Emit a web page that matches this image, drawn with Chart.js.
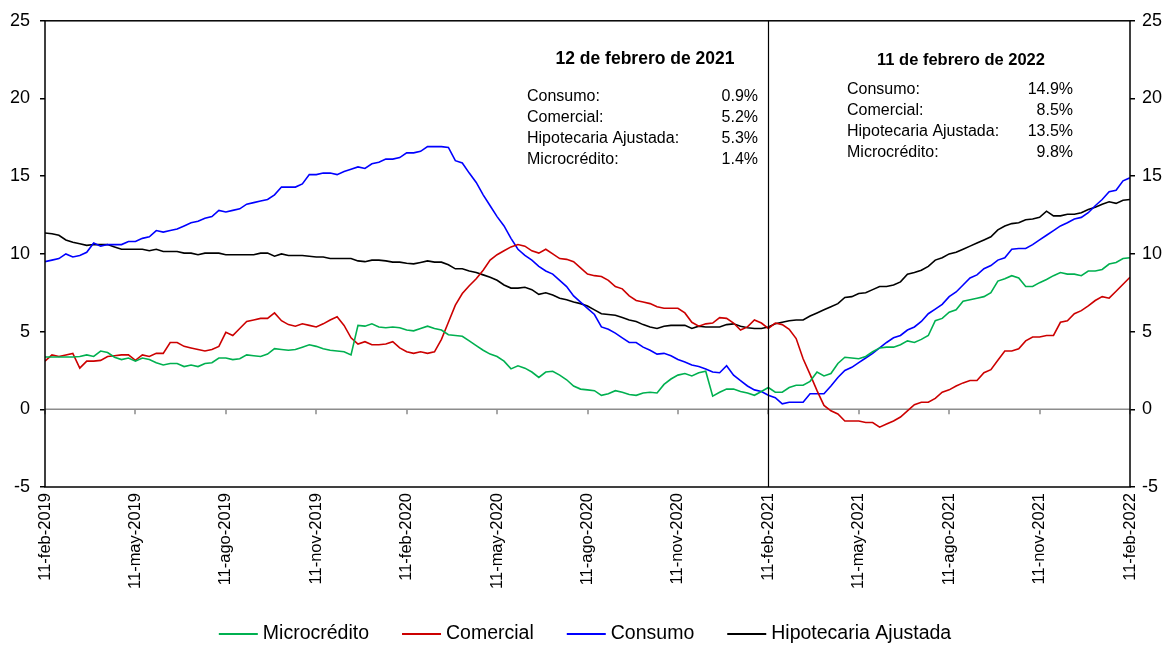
<!DOCTYPE html>
<html>
<head>
<meta charset="utf-8">
<script src="https://cdn.jsdelivr.net/npm/chart.js@4.4.1/dist/chart.umd.min.js"></script>
<style>
html,body{margin:0;padding:0;background:#fff;}
#wrap{width:1170px;height:647px;position:relative;}
</style>
</head>
<body>
<div id="wrap"><canvas id="c" width="1170" height="647"></canvas></div>
<script>
// ---- Data ----
const tickWeeks = [0,13,26,39,52,65,78,91,104,117,130,143,156];
const tickLabels = ['11-feb-2019','11-may-2019','11-ago-2019','11-nov-2019','11-feb-2020','11-may-2020','11-ago-2020','11-nov-2020','11-feb-2021','11-may-2021','11-ago-2021','11-nov-2021','11-feb-2022'];

const microcredito = [
3.37,3.37,3.37,3.37,3.37,3.4,3.5,3.4,3.75,3.65,
3.35,3.2,3.3,3.1,3.3,3.2,3.0,2.85,2.95,2.95,
2.75,2.85,2.75,2.95,3.0,3.3,3.3,3.2,3.25,3.5,
3.45,3.4,3.55,3.9,3.85,3.8,3.85,4.0,4.15,4.05,
3.9,3.8,3.75,3.7,3.5,5.4,5.35,5.5,5.3,5.25,
5.3,5.25,5.1,5.05,5.2,5.35,5.2,5.1,4.8,4.75,
4.7,4.4,4.1,3.8,3.55,3.4,3.1,2.6,2.8,2.65,
2.4,2.05,2.4,2.45,2.2,1.9,1.5,1.3,1.25,1.2,
0.9,1.0,1.2,1.1,0.95,0.9,1.05,1.1,1.05,1.6,
1.95,2.2,2.3,2.15,2.35,2.45,0.85,1.1,1.3,1.3,
1.15,1.05,0.9,1.15,1.4,1.1,1.1,1.4,1.55,1.55,
1.8,2.4,2.15,2.3,2.95,3.35,3.3,3.25,3.4,3.7,
3.95,4.0,4.0,4.15,4.4,4.3,4.5,4.75,5.7,5.85,
6.25,6.4,6.95,7.05,7.15,7.25,7.5,8.25,8.4,8.6,
8.45,7.9,7.9,8.15,8.35,8.6,8.8,8.7,8.7,8.6,
8.9,8.9,9.0,9.35,9.45,9.7,9.75];

const comercial = [
3.1,3.5,3.4,3.5,3.6,2.65,3.1,3.1,3.15,3.4,
3.45,3.5,3.5,3.15,3.5,3.4,3.6,3.6,4.3,4.3,
4.05,3.95,3.85,3.75,3.85,4.05,4.95,4.75,5.2,5.65,
5.75,5.85,5.85,6.2,5.7,5.45,5.35,5.5,5.4,5.3,
5.5,5.75,5.95,5.4,4.6,4.2,4.35,4.15,4.15,4.2,
4.35,3.95,3.7,3.6,3.7,3.6,3.7,4.5,5.6,6.7,
7.45,7.95,8.4,8.95,9.6,9.95,10.2,10.45,10.6,10.5,
10.2,10.05,10.3,10.0,9.7,9.65,9.5,9.1,8.7,8.6,
8.55,8.3,7.9,7.75,7.3,7.0,6.9,6.8,6.6,6.5,
6.5,6.5,6.2,5.6,5.35,5.5,5.55,5.9,5.85,5.55,
5.1,5.3,5.75,5.55,5.2,5.55,5.45,5.15,4.55,3.25,
2.25,1.2,0.25,-0.1,-0.3,-0.75,-0.75,-0.75,-0.85,-0.85,
-1.15,-0.95,-0.75,-0.5,-0.1,0.3,0.45,0.45,0.7,1.1,
1.25,1.5,1.7,1.85,1.85,2.35,2.55,3.15,3.75,3.75,
3.9,4.4,4.65,4.65,4.75,4.75,5.6,5.7,6.15,6.35,
6.65,7.0,7.25,7.15,7.6,8.05,8.5];

const consumo = [
9.5,9.6,9.7,10.0,9.8,9.9,10.1,10.7,10.5,10.6,
10.6,10.6,10.8,10.8,11.0,11.1,11.5,11.4,11.5,11.6,
11.8,12.0,12.1,12.3,12.4,12.8,12.7,12.8,12.9,13.2,
13.3,13.4,13.5,13.8,14.3,14.3,14.3,14.5,15.1,15.1,
15.2,15.2,15.1,15.3,15.45,15.6,15.5,15.8,15.9,16.1,
16.1,16.2,16.5,16.5,16.6,16.9,16.9,16.9,16.85,16.0,
15.85,15.2,14.6,13.8,13.1,12.4,11.8,11.0,10.3,9.9,
9.6,9.2,8.9,8.7,8.3,7.9,7.3,6.9,6.5,6.1,
5.3,5.15,4.9,4.6,4.3,4.3,4.0,3.8,3.55,3.6,
3.45,3.2,3.05,2.85,2.75,2.6,2.4,2.35,2.8,2.2,
1.85,1.5,1.25,1.15,0.9,0.75,0.35,0.45,0.45,0.45,
1.0,1.0,1.0,1.5,2.05,2.5,2.7,3.0,3.3,3.6,
3.95,4.3,4.6,4.75,5.1,5.3,5.65,6.15,6.45,6.75,
7.25,7.55,8.0,8.45,8.65,9.05,9.25,9.6,9.75,10.3,
10.35,10.35,10.6,10.9,11.2,11.5,11.8,12.0,12.25,12.35,
12.65,13.1,13.5,14.0,14.1,14.7,14.9];

const hipotecaria = [
11.35,11.3,11.2,10.9,10.75,10.65,10.55,10.6,10.6,10.6,
10.45,10.3,10.3,10.3,10.3,10.2,10.3,10.15,10.15,10.15,
10.05,10.05,9.95,10.05,10.05,10.05,9.95,9.95,9.95,9.95,
9.95,10.05,10.05,9.85,10.0,9.9,9.9,9.9,9.85,9.8,
9.8,9.7,9.7,9.7,9.7,9.55,9.5,9.6,9.6,9.55,
9.47,9.47,9.4,9.36,9.45,9.55,9.47,9.47,9.3,9.04,
9.04,8.9,8.8,8.65,8.5,8.3,8.0,7.8,7.8,7.85,
7.7,7.4,7.5,7.35,7.15,7.05,6.9,6.8,6.65,6.4,
6.15,6.1,6.05,5.9,5.75,5.65,5.45,5.3,5.2,5.35,
5.4,5.4,5.4,5.2,5.35,5.3,5.3,5.3,5.45,5.5,
5.35,5.25,5.2,5.2,5.3,5.5,5.6,5.7,5.75,5.75,
6.0,6.2,6.4,6.6,6.8,7.2,7.25,7.45,7.5,7.7,
7.9,7.9,8.0,8.2,8.7,8.8,8.95,9.2,9.6,9.75,
10.0,10.1,10.3,10.5,10.7,10.9,11.1,11.55,11.8,11.95,
12.0,12.2,12.25,12.35,12.75,12.45,12.45,12.55,12.55,12.65,
12.85,13.0,13.2,13.35,13.25,13.45,13.5];

const seriesNames = ['Microcrédito','Comercial','Consumo','Hipotecaria Ajustada'];
const seriesColors = ['#00B050','#CC0000','#0000FF','#000000'];

const noteLabels = ['Consumo:','Comercial:','Hipotecaria Ajustada:','Microcrédito:'];
const note2021Title = '12 de febrero de 2021';
const note2021Values = ['0.9%','5.2%','5.3%','1.4%'];
const note2022Title = '11 de febrero de 2022';
const note2022Values = ['14.9%','8.5%','13.5%','9.8%'];
const markerWeek = 104;

// ---- Build ----
const weeks = consumo.map((_, i) => i);
const FONT = '"Liberation Sans", Arial, sans-serif';
const allSeries = [microcredito, comercial, consumo, hipotecaria];

const overlay = {
  id: 'overlay',
  beforeDatasetsDraw(chart) {
    const {ctx, chartArea: a, scales: {x, y}} = chart;
    const y0 = y.getPixelForValue(0);
    ctx.save();
    ctx.strokeStyle = '#8c8c8c';
    ctx.lineWidth = 1.5;
    ctx.beginPath();
    ctx.moveTo(a.left, y0); ctx.lineTo(a.right, y0);
    tickWeeks.forEach(w => {
      const px = Math.round(x.getPixelForValue(w));
      ctx.moveTo(px, y0); ctx.lineTo(px, y0 + 5);
    });
    ctx.stroke();
    ctx.restore();
  },
  afterDatasetsDraw(chart) {
    const {ctx, chartArea: a, scales: {x, y}} = chart;
    ctx.save();
    // frame
    ctx.strokeStyle = '#000';
    ctx.lineWidth = 1.5;
    ctx.strokeRect(a.left, a.top, a.right - a.left, a.bottom - a.top);
    // marker line
    const mx = Math.round(x.getPixelForValue(markerWeek)) + 0.5;
    ctx.lineWidth = 1.2;
    ctx.beginPath(); ctx.moveTo(mx, a.top); ctx.lineTo(mx, a.bottom); ctx.stroke();

    ctx.fillStyle = '#000';
    ctx.textBaseline = 'middle';
    // note 2021
    ctx.font = 'bold 17.5px ' + FONT;
    ctx.textAlign = 'center';
    ctx.fillText(note2021Title, 645, 59);
    ctx.font = '16px ' + FONT;
    noteLabels.forEach((t, i) => {
      const yy = 97 + i * 21;
      ctx.textAlign = 'left'; ctx.fillText(t, 527, yy);
      ctx.textAlign = 'right'; ctx.fillText(note2021Values[i], 758, yy);
    });
    // note 2022
    ctx.font = 'bold 16.5px ' + FONT;
    ctx.textAlign = 'center';
    ctx.fillText(note2022Title, 961, 60);
    ctx.font = '16px ' + FONT;
    noteLabels.forEach((t, i) => {
      const yy = 90 + i * 21;
      ctx.textAlign = 'left'; ctx.fillText(t, 847, yy);
      ctx.textAlign = 'right'; ctx.fillText(note2022Values[i], 1073, yy);
    });

    // legend
    ctx.font = '19.5px ' + FONT;
    const lineW = 39, gapT = 5, gapItem = 33;
    const widths = seriesNames.map(n => lineW + gapT + ctx.measureText(n).width);
    const total = widths.reduce((s, w) => s + w, 0) + gapItem * (widths.length - 1);
    let lx = (chart.width - total) / 2;
    const ly = 634;
    seriesNames.forEach((n, i) => {
      ctx.strokeStyle = seriesColors[i];
      ctx.lineWidth = 2;
      ctx.beginPath(); ctx.moveTo(lx, ly); ctx.lineTo(lx + lineW, ly); ctx.stroke();
      ctx.textAlign = 'left';
      ctx.fillText(n, lx + lineW + gapT, ly);
      lx += widths[i] + gapItem;
    });
    ctx.restore();
  }
};

const yCommon = {
  type: 'linear',
  min: -5, max: 25,
  border: {display: false},
  grid: {drawOnChartArea: false, drawTicks: true, tickLength: 5, color: '#000', lineWidth: 1.5},
  ticks: {stepSize: 5, color: '#000', font: {family: FONT, size: 18}, padding: 10}
};

new Chart(document.getElementById('c'), {
  type: 'line',
  data: {
    labels: weeks,
    datasets: allSeries.map((d, i) => ({
      label: seriesNames[i],
      data: d,
      borderColor: seriesColors[i],
      backgroundColor: seriesColors[i],
      borderWidth: 1.6,
      pointRadius: 0,
      tension: 0,
      yAxisID: 'y'
    }))
  },
  options: {
    responsive: false,
    animation: false,
    devicePixelRatio: 1,
    layout: {padding: {top: 19, bottom: 45, left: 0, right: 0}},
    plugins: {legend: {display: false}, tooltip: {enabled: false}},
    scales: {
      x: {
        type: 'linear',
        min: 0, max: 156,
        border: {display: false},
        grid: {display: false, drawTicks: false},
        afterBuildTicks(scale) { scale.ticks = tickWeeks.map(v => ({value: v})); },
        afterFit(scale) { scale.height = 115; },
        ticks: {
          autoSkip: false,
          minRotation: 90, maxRotation: 90,
          padding: 6,
          color: '#000',
          font: {family: FONT, size: 16.5},
          callback: (v) => tickLabels[tickWeeks.indexOf(v)]
        }
      },
      y: Object.assign({}, yCommon, {position: 'left', afterFit(s) { s.width = 45; }}),
      y2: Object.assign({}, yCommon, {position: 'right', afterFit(s) { s.width = 40; },
        ticks: Object.assign({}, yCommon.ticks, {padding: 7})})
    }
  },
  plugins: [overlay]
});
</script>
</body>
</html>
